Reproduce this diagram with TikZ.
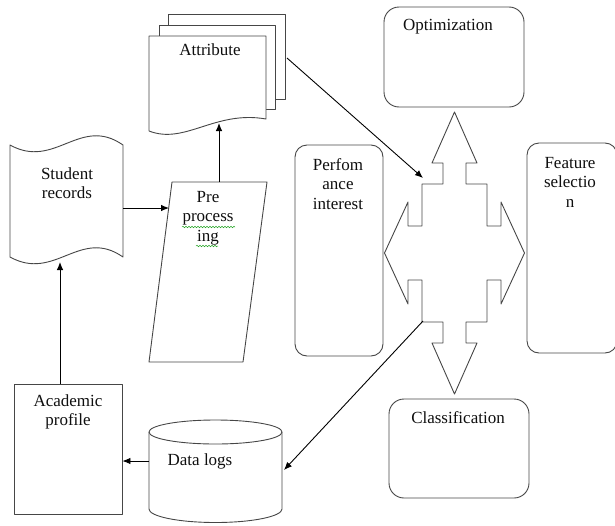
\documentclass[tikz,border=0pt]{standalone}
\usepackage{fontspec}
\setmainfont{Liberation Serif}
\usetikzlibrary{arrows.meta,calc,decorations.pathmorphing}
\definecolor{fcedge}{RGB}{70,70,70}
\definecolor{fcink}{RGB}{15,15,15}
\definecolor{fcspell}{RGB}{40,165,40}
\tikzset{
  fcline/.style={draw=fcedge, line width=0.9pt, line join=round},
  rbox/.style={fcline, rounded corners=12pt, inner sep=0pt},
  sbox/.style={fcline, inner sep=0pt},
  lbl/.style={align=center, font=\fontsize{17}{19.5}\selectfont, text=fcink, inner sep=0pt},
  arr/.style={-{Latex[length=8pt,width=6.5pt]}, draw=black, line width=0.9pt},
  spell/.style={draw=fcspell, line width=0.5pt, decorate,
    decoration={snake, amplitude=0.8pt, segment length=3pt}}
}

\begin{document}
\begin{tikzpicture}[x=1pt,y=-1pt]
  \useasboundingbox (0,0) rectangle (615,525);

  % attribute: stacked documents
  \draw[fcline] (168,25) -- (168,14) -- (285,14) -- (285,99) -- (275,99);
  \draw[fcline, fill=white] (159,36) -- (159,25) -- (275,25) -- (275,109) -- (266,109);
  \draw[fcline, fill=white] (149,131) -- (149,36) -- (266,36) -- (266,119)
    .. controls (215,110) and (185,145) .. (149,131);
  \node[lbl] (attr) at (210,50) {Attribute};
  \coordinate (attr-in) at (219,123);
  \coordinate (attr-out) at (287,58);

  % student records: punched tape
  \draw[fcline] (10,145) .. controls (55,170) and (80,115) .. (123,145)
    -- (123,257) .. controls (80,227) and (55,282) .. (10,257) -- cycle;
  \node[lbl] (rec) at (67,183) {Student\\records};
  \coordinate (rec-out) at (123,208);
  \coordinate (rec-in) at (60,262);

  % pre processing: slanted box
  \draw[fcline] (172,182) -- (267,182) -- (243,362) -- (149,362) -- cycle;
  \node[lbl] (pre) at (208,218) {Pre\\process\\ing};
  \draw[spell] (182,227) -- (235,227);
  \draw[spell] (196,246) -- (218,246);
  \coordinate (pre-in) at (169,208);
  \coordinate (pre-out) at (219,182);

  % academic profile
  \node[sbox, minimum width=108pt, minimum height=130pt] (acad) at (68,449) {};
  \node[lbl] at (68,412) {Academic\\profile};

  % data logs: cylinder
  \draw[fcline] (149,432) -- (149,509) arc (180:0:66.5 and 13.5) -- (282,432);
  \draw[fcline] (215.5,432) ellipse (66.5 and 12);
  \node[lbl] (logs) at (200,461) {Data logs};
  \coordinate (logs-in) at (284,470);
  \coordinate (logs-out) at (149,461);

  % four way arrow
  \coordinate (hub) at (454.5,253);
  \begin{scope}[shift={(hub)}]
    \draw[fcline] (0,-141) -- (22.5,-90) -- (11.5,-90) -- (11.5,-69) -- (32.5,-69)
      -- (32.5,-27) -- (46.5,-27) -- (46.5,-51) -- (70,0) -- (46.5,51) -- (46.5,27)
      -- (32.5,27) -- (32.5,69) -- (11.5,69) -- (11.5,90) -- (22.5,90) -- (0,141)
      -- (-22.5,90) -- (-11.5,90) -- (-11.5,69) -- (-32.5,69) -- (-32.5,27)
      -- (-46.5,27) -- (-46.5,51) -- (-70,0) -- (-46.5,-51) -- (-46.5,-27)
      -- (-32.5,-27) -- (-32.5,-69) -- (-11.5,-69) -- (-11.5,-90) -- (-22.5,-90)
      -- cycle;
    \coordinate (hub-in) at (-31.5,-75);
    \coordinate (hub-out) at (-31.5,68);
  \end{scope}

  % rounded boxes around the hub
  \node[rbox, rounded corners=15pt, minimum width=140pt, minimum height=100pt] (opt) at (454,57) {};
  \node[lbl] at (448,27) {Optimization};
  \node[rbox, minimum width=88pt, minimum height=211pt] (perf) at (339,250.5) {};
  \node[lbl] at (338,184) {Perfom\\ance\\interest};
  \node[rbox, minimum width=90pt, minimum height=210pt] (feat) at (572,248) {};
  \node[lbl] at (570,182) {Feature\\selectio\\n};
  \node[rbox, rounded corners=15pt, minimum width=140pt, minimum height=99pt] (cls) at (459,448.5) {};
  \node[lbl] at (458,418) {Classification};

  \draw[arr] (acad.north -| rec-in) -- (rec-in);
  \draw[arr] (rec-out) -- (pre-in);
  \draw[arr] (pre-out) -- (attr-in);
  \draw[arr] (attr-out) -- (hub-in);
  \draw[arr] (hub-out) -- (logs-in);
  \draw[arr] (logs-out) -- (acad.east |- logs-out);
\end{tikzpicture}
\end{document}
